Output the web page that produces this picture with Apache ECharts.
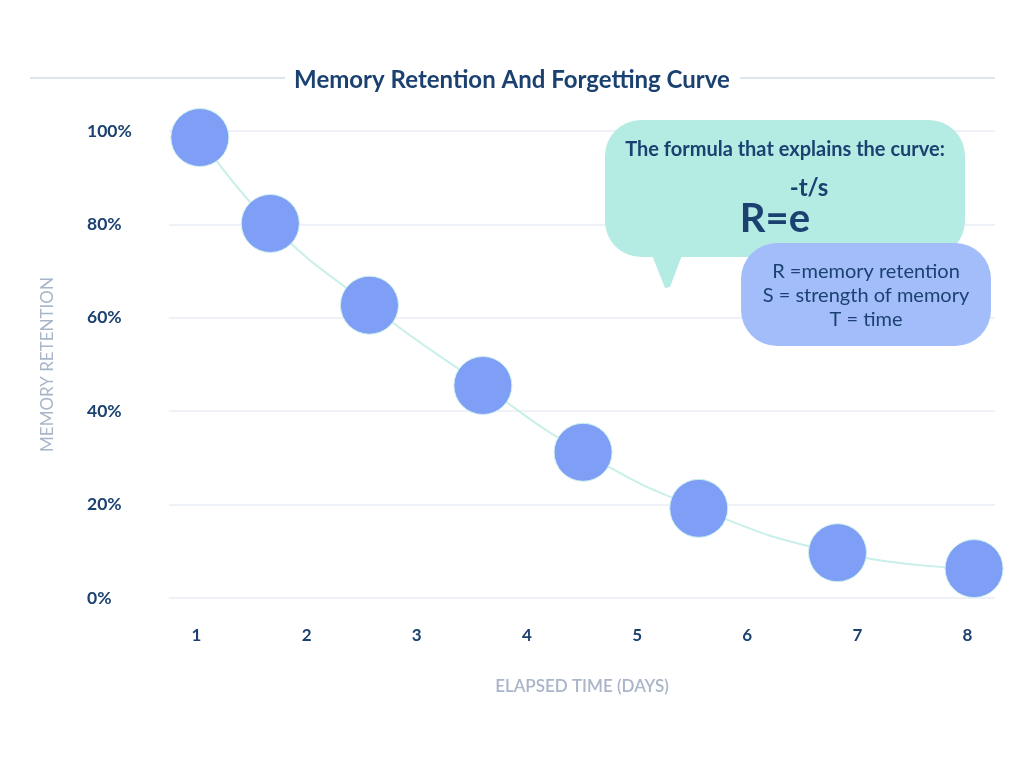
<!DOCTYPE html>
<html>
<head>
<meta charset="utf-8">
<script src="https://cdn.jsdelivr.net/npm/echarts@6/dist/echarts.min.js"></script>
<style>
html,body{margin:0;padding:0;background:#fff;}
#chart{width:1024px;height:762px;}
</style>
</head>
<body>
<div id="chart"></div>
<script>
var titleText = 'Memory Retention And Forgetting Curve';
var xTickValues = [1, 2, 3, 4, 5, 6, 7, 8];
var yTickValues = [0, 20, 40, 60, 80, 100];
var elapsedDays = [1.03, 1.67, 2.57, 3.60, 4.51, 5.56, 6.82, 8.06];
var retention = [98.6, 80.2, 62.7, 45.5, 31.2, 19.2, 9.7, 6.3];
var xAxisName = 'ELAPSED TIME (DAYS)';
var yAxisName = 'MEMORY RETENTION';
var bubbleTitle = 'The formula that explains the curve:';
var formulaExp = '-t/s';
var formulaBase = 'R=e';
var legendLines = ['R =memory retention', 'S = strength of memory', 'T = time'];

var FONT = 'Lato, "Open Sans", sans-serif';
var DARK = '#1b4170';
var GREY = '#a9b6c9';

var chart = echarts.init(document.getElementById('chart'), null, {renderer: 'canvas'});
var points = elapsedDays.map(function (d, i) { return [d, retention[i]]; });

chart.setOption({
  backgroundColor: '#ffffff',
  animation: false,
  title: {
    text: titleText,
    left: 'center',
    top: 63,
    textStyle: {fontFamily: FONT, fontSize: 24, fontWeight: 'bold', color: DARK}
  },
  grid: {left: 169, right: 29, top: 131, bottom: 164},
  xAxis: {
    type: 'value',
    min: 0.75,
    max: 8.25,
    name: xAxisName,
    nameLocation: 'middle',
    nameGap: 80,
    nameTextStyle: {fontFamily: FONT, fontSize: 17, fontWeight: 600, color: GREY},
    axisLine: {show: false},
    axisTick: {show: false},
    splitLine: {show: false},
    axisLabel: {
      customValues: xTickValues,
      margin: 29,
      fontFamily: FONT, fontSize: 17, fontWeight: 'bold', color: DARK
    }
  },
  yAxis: {
    type: 'value',
    min: 0,
    max: 100,
    interval: 20,
    name: yAxisName,
    nameLocation: 'middle',
    nameRotate: 90,
    nameGap: 113,
    nameTextStyle: {fontFamily: FONT, fontSize: 17, color: GREY},
    axisLine: {show: false},
    axisTick: {show: false},
    splitLine: {show: true, lineStyle: {color: '#eef2f8', width: 2}},
    axisLabel: {
      formatter: function (v) { return v + '%'; },
      align: 'left',
      margin: 82,
      fontFamily: FONT, fontSize: 17.5, fontWeight: 'bold', color: DARK
    }
  },
  series: [{
    type: 'line',
    data: points,
    smooth: 0.5,
    symbol: 'circle',
    symbolSize: 58,
    lineStyle: {color: '#c9efea', width: 2},
    itemStyle: {color: '#7f9ef5', borderColor: '#cdf1ec', borderWidth: 1},
    z: 3
  }],
  graphic: [
    {type: 'line', shape: {x1: 30, y1: 78, x2: 285, y2: 78}, style: {stroke: '#dce6ef', lineWidth: 2}},
    {type: 'line', shape: {x1: 740, y1: 78, x2: 995, y2: 78}, style: {stroke: '#dce6ef', lineWidth: 2}},
    {type: 'polygon', shape: {points: [[650, 250], [684, 250], [670, 287], [665, 288]]}, style: {fill: '#b4ebe3'}, z: 10},
    {type: 'rect', shape: {x: 605, y: 120, width: 360, height: 137, r: 36}, style: {fill: '#b4ebe3'}, z: 10},
    {type: 'text', x: 785, y: 150, style: {text: bubbleTitle, fill: DARK, font: 'bold 20px ' + FONT, textAlign: 'center', textVerticalAlign: 'middle'}, z: 11},
    {type: 'text', x: 809, y: 188, style: {text: formulaExp, fill: DARK, font: 'bold 24px ' + FONT, textAlign: 'center', textVerticalAlign: 'middle'}, z: 11},
    {type: 'text', x: 775, y: 219, style: {text: formulaBase, fill: DARK, font: 'bold 40px ' + FONT, textAlign: 'center', textVerticalAlign: 'middle'}, z: 11},
    {type: 'rect', shape: {x: 741, y: 243, width: 250, height: 103, r: 36}, style: {fill: '#a3bdfb'}, z: 12},
    {type: 'text', x: 866, y: 272, style: {text: legendLines[0], fill: DARK, font: '20px ' + FONT, textAlign: 'center', textVerticalAlign: 'middle'}, z: 13},
    {type: 'text', x: 866, y: 296, style: {text: legendLines[1], fill: DARK, font: '20px ' + FONT, textAlign: 'center', textVerticalAlign: 'middle'}, z: 13},
    {type: 'text', x: 866, y: 320, style: {text: legendLines[2], fill: DARK, font: '20px ' + FONT, textAlign: 'center', textVerticalAlign: 'middle'}, z: 13}
  ]
});
</script>
</body>
</html>
